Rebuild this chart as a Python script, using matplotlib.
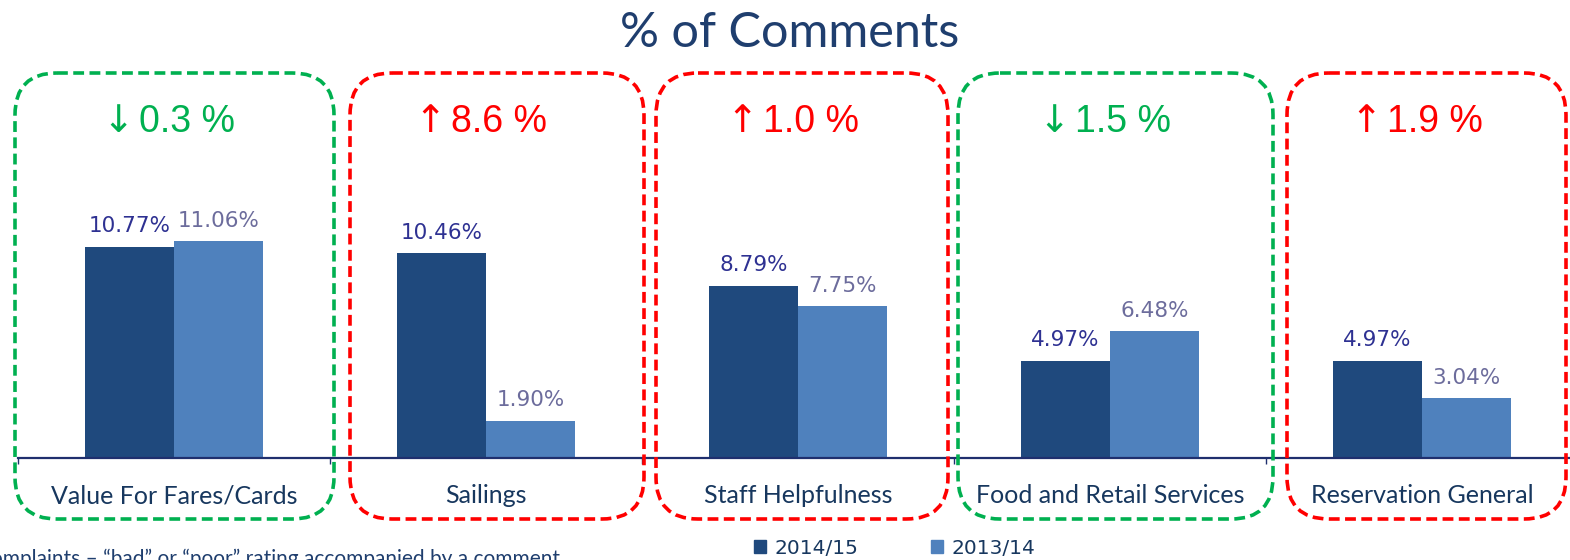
import matplotlib
matplotlib.use("Agg")
import matplotlib.pyplot as plt
from matplotlib.patches import FancyBboxPatch, Patch
import numpy as np

# ---- data ----
categories = ["Value For Fares/Cards", "Sailings", "Staff Helpfulness",
              "Food and Retail Services", "Reservation General"]
series_names = ["2014/15", "2013/14"]
values_1415 = [10.77, 10.46, 8.79, 4.97, 4.97]
values_1314 = [11.06, 1.90, 7.75, 6.48, 3.04]
change_arrows = ["↓", "↑", "↑", "↓", "↑"]
change_values = ["0.3 %", "8.6 %", "1.0 %", "1.5 %", "1.9 %"]
change_up = [False, True, True, False, True]
title = "% of Comments"
footnote = "Complaints – “bad” or “poor” rating accompanied by a comment"

# ---- style ----
W, H = 1570, 560
DPI = 100
PT = 72 / DPI  # points per pixel
dark = "#1F497D"
light = "#4F81BD"
navy = "#17375E"
lab_dark = "#2E3192"
lab_light = "#6C6C9C"
green = "#00B050"
red = "#FF0000"
cal = ["Lato", "DejaVu Sans"]
arial = ["Liberation Sans", "DejaVu Sans"]

fig = plt.figure(figsize=(W / DPI, H / DPI), dpi=DPI)
fig.patch.set_facecolor("white")

# bar axes (pixel layout)
ax_left, ax_right = 18, 1578
ax_bottom, ax_top = 458, 66
ax = fig.add_axes([ax_left / W, 1 - ax_bottom / H,
                   (ax_right - ax_left) / W, (ax_bottom - ax_top) / H])
ax.set_xlim(-0.5, len(categories) - 0.5)
ax.set_ylim(0, 20)

x = np.arange(len(categories))
bw = 0.285
b1 = ax.bar(x - bw / 2, values_1415, bw, color=dark, label=series_names[0])
b2 = ax.bar(x + bw / 2, values_1314, bw, color=light, label=series_names[1])

for rect, v in zip(b1, values_1415):
    ax.annotate(f"{v:.2f}%", (rect.get_x() + rect.get_width() / 2, v),
                xytext=(0, 7.5), textcoords="offset points", ha="center",
                va="bottom", fontsize=15.5, color=lab_dark)
for rect, v in zip(b2, values_1314):
    ax.annotate(f"{v:.2f}%", (rect.get_x() + rect.get_width() / 2, v),
                xytext=(0, 7.5), textcoords="offset points", ha="center",
                va="bottom", fontsize=15.5, color=lab_light)

for s in ["top", "right", "left"]:
    ax.spines[s].set_visible(False)
ax.spines["bottom"].set_color("#1F2F6E")
ax.spines["bottom"].set_linewidth(1.6)
ax.set_yticks([])
ax.set_xticks(np.arange(-0.5, len(categories)), labels=[])
ax.tick_params(axis="x", which="major", length=4, width=1, color="#1F2F6E",
               direction="out")
ax.set_xticks(x, labels=categories, minor=True)
ax.tick_params(axis="x", which="minor", length=0, pad=19, labelsize=18,
               labelcolor=navy)
for t in ax.get_xticklabels(minor=True):
    t.set_fontfamily(cal)

# change annotations (arrow + value)
yfrac = 1 - (122 - ax_top) / (ax_bottom - ax_top)
xf = ax.get_xaxis_transform()
for i, (arr, val, up) in enumerate(zip(change_arrows, change_values, change_up)):
    c = red if up else green
    ax.annotate(arr, (i, yfrac), xycoords=xf, xytext=(-56 * PT, 0),
                textcoords="offset points", ha="center", va="center",
                fontsize=27, color=c, family=["DejaVu Sans"])
    ax.annotate(val, (i, yfrac), xycoords=xf, xytext=(-35 * PT, 0),
                textcoords="offset points", ha="left", va="center",
                fontsize=27, color=c, family=arial)

# overlay for rounded dashed boxes (pixel coordinates)
ov = fig.add_axes([0, 0, 1, 1], zorder=5)
ov.set_xlim(0, W)
ov.set_ylim(H, 0)
ov.axis("off")
ov.patch.set_alpha(0)
box_x = [(15, 334), (350, 644), (656, 948), (958, 1273), (1287, 1566)]
box_y = (73, 519)
for (x0, x1), up in zip(box_x, change_up):
    p = FancyBboxPatch((x0, box_y[0]), x1 - x0, box_y[1] - box_y[0],
                       boxstyle="round,pad=0,rounding_size=42",
                       fill=False, edgecolor=red if up else green,
                       linewidth=2.6, linestyle=(0, (3, 1.5)))
    ov.add_patch(p)

fig.text(790 / W, 1 - 33 / H, title, ha="center", va="center", fontsize=35,
         color="#1F3E6E", family=cal)

fig.text(560 / W, 1 - 549 / H, footnote, ha="right", va="top", fontsize=15,
         color="#1F3E6E", family=cal)

handles = [Patch(color=dark), Patch(color=light)]
fig.legend(handles, series_names, loc="center left",
           bbox_to_anchor=(754 / W, 1 - 548 / H), ncol=2, frameon=False,
           fontsize=14.5, handlelength=0.62, handleheight=0.62,
           handletextpad=0.4, columnspacing=3.6, borderpad=0, borderaxespad=0,
           labelcolor=navy)

fig.savefig("out.png", dpi=DPI, facecolor="white")
